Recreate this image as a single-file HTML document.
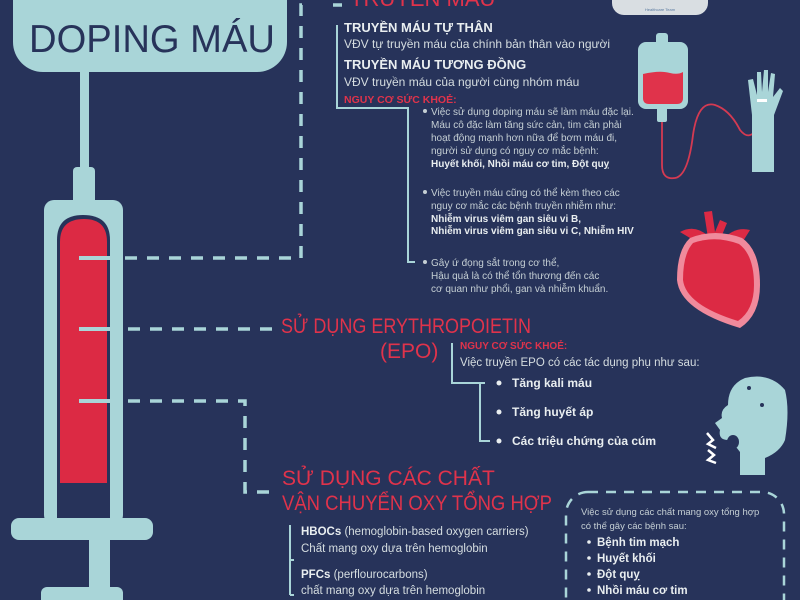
<!DOCTYPE html>
<html><head><meta charset="utf-8"><style>
html,body{margin:0;padding:0;background:#27335a;}
svg{display:block}
text{font-family:"Liberation Sans","DejaVu Sans",sans-serif;}
</style></head><body>
<svg width="800" height="600" viewBox="0 0 800 600" xmlns="http://www.w3.org/2000/svg">
<rect width="800" height="600" fill="#27335a"/>
<rect x="13" y="-30" width="274" height="102" rx="30" fill="#a9d5d8"/>
<text x="152" y="52" text-anchor="middle" font-size="39" fill="#27335a" textLength="246" lengthAdjust="spacingAndGlyphs">DOPING MÁU</text>
<rect x="80" y="70" width="9" height="100" fill="#a9d5d8"/>
<rect x="73" y="167" width="22" height="40" rx="4" fill="#a9d5d8"/>
<rect x="44" y="200" width="79" height="325" rx="10" fill="#a9d5d8"/>
<path d="M57 240 Q57 215 83 215 Q110 215 110 240 L110 518 L57 518 Z" fill="#27335a"/>
<path d="M60 242 Q60 219 84 219 Q107 219 107 242 L107 483 L60 483 Z" fill="#dc2a44"/>
<rect x="11" y="518" width="142" height="22" rx="8" fill="#a9d5d8"/>
<rect x="89" y="538" width="21" height="52" fill="#a9d5d8"/>
<rect x="41" y="587" width="82" height="20" rx="6" fill="#a9d5d8"/>
<g stroke="#a9d5d8" stroke-width="4" fill="none">
<line x1="79" y1="258" x2="120" y2="258"/>
<line x1="79" y1="329" x2="117" y2="329"/>
<line x1="79" y1="401" x2="117" y2="401"/>
</g>
<g stroke="#a9d5d8" stroke-width="3.5" fill="none" stroke-dasharray="12,10">
<path d="M125 258 H301 V5 H312"/>
<line x1="128" y1="329" x2="275" y2="329"/>
<path d="M128 401 H245 V492 H275"/>
<line x1="333" y1="5" x2="342" y2="5" stroke-dasharray="none"/>
</g>
<text x="350" y="6" font-size="22" fill="#e0334b">TRUYỀN MÁU</text>
<g stroke="#a9d5d8" stroke-width="2" fill="none">
<path d="M337 25 V108 H408 V262 H415"/>
<path d="M452 343 V383 H485 M480 383 V441 H490"/>
<path d="M290 525 V595 M290 560 H294 M290 595 H294"/>
</g>
<text x="344" y="32" font-size="13" font-weight="bold" fill="#e9eef0">TRUYỀN MÁU TỰ THÂN</text>
<text x="344" y="48" font-size="12" fill="#d5dde0">VĐV tự truyền máu của chính bản thân vào người</text>
<text x="344" y="69" font-size="13" font-weight="bold" fill="#e9eef0">TRUYỀN MÁU TƯƠNG ĐỒNG</text>
<text x="344" y="86" font-size="12" fill="#d5dde0">VĐV truyền máu của người cùng nhóm máu</text>
<text x="344" y="103" font-size="10.5" font-weight="bold" fill="#e0334b">NGUY CƠ SỨC KHOẺ:</text>
<g font-size="10" fill="#c5cfd4">
<circle cx="425" cy="111" r="2" fill="#c5cfd4"/>
<text x="431" y="115">Việc sử dụng doping máu sẽ làm máu đặc lại.</text>
<text x="431" y="128">Máu cô đặc làm tăng sức cản, tim cần phải</text>
<text x="431" y="141">hoạt động mạnh hơn nữa để bơm máu đi,</text>
<text x="431" y="154">người sử dụng có nguy cơ mắc bệnh:</text>
<text x="431" y="167" font-weight="bold" fill="#e9eef0">Huyết khối, Nhồi máu cơ tim, Đột quỵ</text>
<circle cx="425" cy="192" r="2" fill="#c5cfd4"/>
<text x="431" y="196">Việc truyền máu cũng có thể kèm theo các</text>
<text x="431" y="209">nguy cơ mắc các bệnh truyền nhiễm như:</text>
<text x="431" y="222" font-weight="bold" fill="#e9eef0">Nhiễm virus viêm gan siêu vi B,</text>
<text x="431" y="234" font-weight="bold" fill="#e9eef0">Nhiễm virus viêm gan siêu vi C, Nhiễm HIV</text>
<circle cx="425" cy="262" r="2" fill="#c5cfd4"/>
<text x="431" y="266">Gây ứ đọng sắt trong cơ thể,</text>
<text x="431" y="279">Hậu quả là có thể tổn thương đến các</text>
<text x="431" y="292">cơ quan như phổi, gan và nhiễm khuẩn.</text>
</g>
<text x="281" y="333" font-size="21" fill="#e0334b" textLength="250" lengthAdjust="spacingAndGlyphs">SỬ DỤNG ERYTHROPOIETIN</text>
<text x="380" y="358" font-size="21" fill="#e0334b">(EPO)</text>
<text x="460" y="349" font-size="10" font-weight="bold" fill="#e0334b">NGUY CƠ SỨC KHOẺ:</text>
<text x="460" y="366" font-size="11.5" fill="#d5dde0">Việc truyền EPO có các tác dụng phụ như sau:</text>
<g font-size="12" font-weight="bold" fill="#e9eef0">
<circle cx="499" cy="383" r="2.5" fill="#e9eef0"/><text x="512" y="387">Tăng kali máu</text>
<circle cx="499" cy="412" r="2.5" fill="#e9eef0"/><text x="512" y="416">Tăng huyết áp</text>
<circle cx="499" cy="441" r="2.5" fill="#e9eef0"/><text x="512" y="445">Các triệu chứng của cúm</text>
</g>
<text x="282" y="485" font-size="21" fill="#e0334b">SỬ DỤNG CÁC CHẤT</text>
<text x="282" y="510" font-size="21" fill="#e0334b" textLength="270" lengthAdjust="spacingAndGlyphs">VẬN CHUYỂN OXY TỔNG HỢP</text>
<g font-size="11.5" fill="#d5dde0">
<text x="301" y="535"><tspan font-weight="bold" fill="#e9eef0">HBOCs</tspan> (hemoglobin-based oxygen carriers)</text>
<text x="301" y="552">Chất mang oxy dựa trên hemoglobin</text>
<text x="301" y="578"><tspan font-weight="bold" fill="#e9eef0">PFCs</tspan> (perflourocarbons)</text>
<text x="301" y="594">chất mang oxy dựa trên hemoglobin</text>
</g>
<rect x="566" y="492" width="218" height="130" rx="22" fill="none" stroke="#a9d5d8" stroke-width="2.5" stroke-dasharray="10,8"/>
<text x="581" y="515" font-size="9.5" fill="#c5cfd4">Việc sử dụng các chất mang oxy tổng hợp</text>
<text x="581" y="529" font-size="9.5" fill="#c5cfd4">có thể gây các bệnh sau:</text>
<g font-size="11.5" font-weight="bold" fill="#e9eef0">
<circle cx="589" cy="542" r="1.8" fill="#e9eef0"/><text x="597" y="546">Bệnh tim mạch</text>
<circle cx="589" cy="558" r="1.8" fill="#e9eef0"/><text x="597" y="562">Huyết khối</text>
<circle cx="589" cy="574" r="1.8" fill="#e9eef0"/><text x="597" y="578">Đột quỵ</text>
<circle cx="589" cy="590" r="1.8" fill="#e9eef0"/><text x="597" y="594">Nhồi máu cơ tim</text>
</g>
<rect x="612" y="-20" width="96" height="35" rx="12" fill="#d9dee2"/>
<text x="660" y="11" font-size="4" text-anchor="middle" fill="#5a7aa0">Healthcare Team</text>
<rect x="656" y="33" width="12" height="12" rx="3" fill="#a9d5d8"/>
<rect x="638" y="42" width="50" height="67" rx="8" fill="#a9d5d8"/>
<path d="M643 74 Q660 70 670 73 Q678 75 683 72 V98 Q683 104 677 104 H649 Q643 104 643 98 Z" fill="#e0334b"/>
<rect x="657" y="106" width="10" height="16" rx="2" fill="#a9d5d8"/>
<path d="M662 122 V165 Q662 180 675 178 Q688 176 693 135 Q698 100 715 105 Q730 110 740 130 Q752 145 762 118 Q768 95 760 92" fill="none" stroke="#d43a52" stroke-width="1.8"/>
<path d="M752 172 V115 L748 80 L753 79 L757 95 L757 72 L761 72 L762 92 L764 70 L768 70 L768 92 L771 73 L775 74 L773 97 L780 88 L783 91 L774 115 V172 Z" fill="#a9d5d8"/>
<rect x="757" y="99" width="10" height="3" fill="#ffffff"/>
<!-- heart -->
<path d="M708 238 L704 212 L712 211 L715 232 L720 220 L727 223 L720 240 Z" fill="#dc2a44"/>
<path d="M680 232 Q695 224 708 236 L700 244 Z" fill="#dc2a44"/>
<path d="M722 240 Q735 226 750 230 L740 246 Z" fill="#dc2a44"/>
<path d="M690 238 Q677 250 677 280 Q680 310 740 328 Q760 315 760 285 Q760 250 742 238 Q715 228 690 238 Z" fill="#f08a9c"/>
<path d="M693 243 Q683 254 683 280 Q686 305 738 321 Q754 310 754 285 Q754 255 739 244 Q715 235 693 243 Z" fill="#dc2a44"/>
<!-- head -->
<path d="M740 475 V452 Q735 445 728 440 Q718 440 720 430 L715 423 L722 418 Q720 410 728 405 Q728 385 745 378 Q770 372 785 390 Q790 410 785 440 Q780 452 765 458 V475 Z" fill="#a9d5d8"/>
<circle cx="749" cy="388" r="2" fill="#27335a"/><circle cx="762" cy="405" r="2" fill="#27335a"/>
<ellipse cx="733" cy="442" rx="6" ry="7" fill="#27335a"/>
<path d="M707 433 L713 440 L708 444 L716 448 M708 450 L714 455 L708 460 L716 463" fill="none" stroke="#ffffff" stroke-width="2.5"/>
</svg>
</body></html>
